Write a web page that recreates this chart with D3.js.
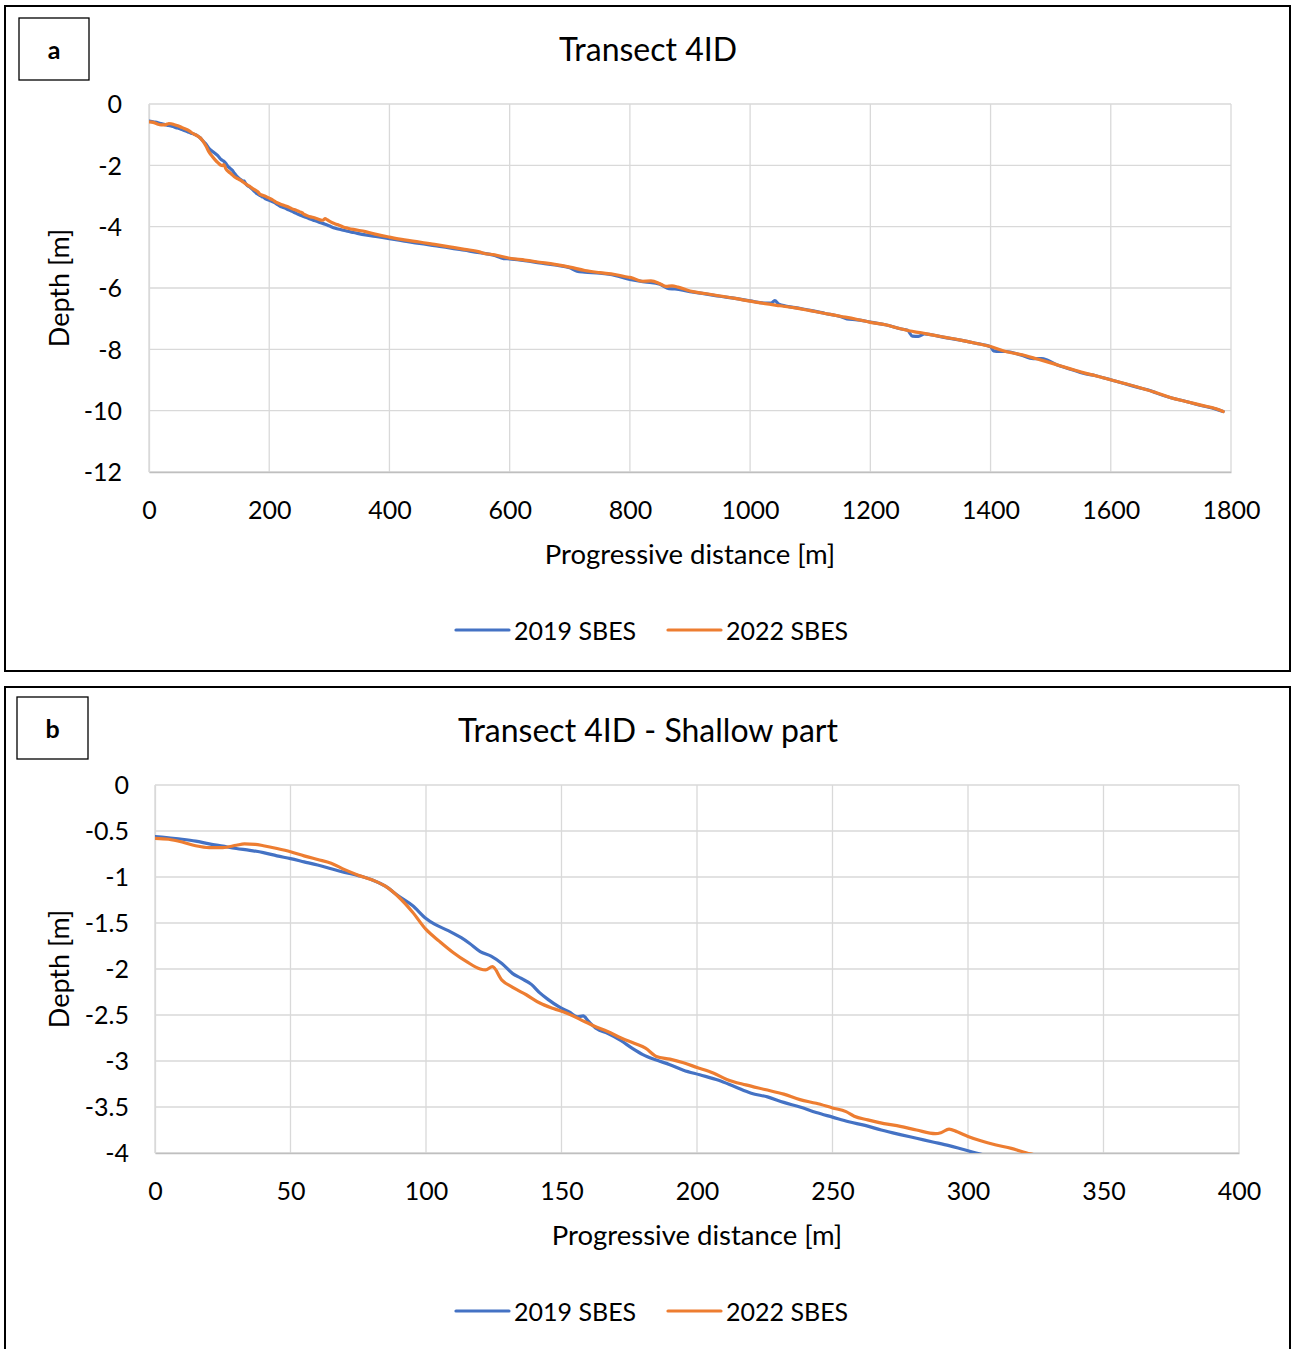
<!DOCTYPE html>
<html>
<head>
<meta charset="utf-8">
<script src="https://cdn.jsdelivr.net/npm/d3@7"></script>
<style>
  html, body { margin: 0; padding: 0; background: #fff; }
  svg { display: block; font-family: Lato, "Noto Sans", sans-serif; }
</style>
</head>
<body>
<svg id="chart" width="1291" height="1349"></svg>
<script>
// SBES depth profiles along transect 4ID (progressive distance in m, depth in m)
const dist2019 = [0,5,10,15,20,25,30,35,40,45,50,55,60,65,70,75,80,85,90,95,100,103,108,113,116,120,124,128,132,135,139,142,145,149,153,156,158,160,163,167,172,176,180,185,190,195,201,208,214,220,226,232,238,244,250,256,262,268,275,281,287,293,298,303,310,320,330,340,360,380,400,425,450,475,500,525,550,575,590,600,625,650,675,700,712,725,750,775,800,825,850,865,875,900,925,950,975,1000,1025,1035,1041,1048,1075,1100,1125,1150,1165,1175,1200,1225,1250,1262,1270,1280,1290,1300,1325,1350,1375,1400,1405,1415,1425,1450,1471,1485,1495,1510,1530,1554,1575,1601,1625,1650,1665,1675,1700,1725,1750,1775,1787];
const depth2019 = [-0.56,-0.575,-0.59,-0.61,-0.64,-0.665,-0.69,-0.71,-0.735,-0.77,-0.8,-0.835,-0.87,-0.91,-0.95,-0.985,-1.03,-1.1,-1.21,-1.31,-1.45,-1.51,-1.58,-1.66,-1.72,-1.81,-1.86,-1.94,-2.05,-2.1,-2.17,-2.26,-2.33,-2.41,-2.47,-2.52,-2.51,-2.57,-2.65,-2.7,-2.78,-2.86,-2.93,-2.99,-3.04,-3.1,-3.15,-3.21,-3.28,-3.35,-3.39,-3.45,-3.5,-3.56,-3.61,-3.66,-3.7,-3.75,-3.8,-3.84,-3.88,-3.92,-3.96,-4.0,-4.05,-4.1,-4.15,-4.19,-4.27,-4.33,-4.39,-4.47,-4.55,-4.62,-4.69,-4.77,-4.85,-4.94,-5.04,-5.05,-5.11,-5.18,-5.25,-5.34,-5.45,-5.48,-5.52,-5.59,-5.72,-5.8,-5.88,-6.02,-6.03,-6.12,-6.19,-6.27,-6.34,-6.42,-6.49,-6.49,-6.41,-6.53,-6.64,-6.73,-6.83,-6.93,-7.02,-7.03,-7.11,-7.2,-7.33,-7.38,-7.57,-7.58,-7.5,-7.52,-7.62,-7.7,-7.8,-7.92,-8.05,-8.07,-8.07,-8.18,-8.3,-8.3,-8.36,-8.5,-8.63,-8.78,-8.86,-9.0,-9.13,-9.27,-9.34,-9.42,-9.58,-9.7,-9.83,-9.95,-10.03];

const dist2022 = [0,5,10,15,20,25,30,33,37,40,45,50,55,60,65,70,75,80,85,90,95,100,105,110,115,120,122,124.5,128,132,137,142,147,152,157,162,167,172,177,181,185,190,195,200,206,211,218,225,232,238,244,250,255,258,263,269,275,281,288,290,293,296,300,305,310,316,323,331,340,360,380,400,425,450,475,500,525,551,555,575,600,625,650,675,700,725,750,775,798,802,820,835,850,860,870,880,900,925,950,975,1000,1025,1050,1075,1100,1125,1150,1175,1200,1225,1250,1274,1285,1300,1325,1350,1375,1400,1425,1450,1475,1493,1510,1530,1554,1575,1601,1625,1650,1675,1700,1725,1750,1775,1787];
const depth2022 = [-0.58,-0.59,-0.62,-0.66,-0.68,-0.68,-0.655,-0.64,-0.645,-0.66,-0.69,-0.725,-0.77,-0.81,-0.85,-0.92,-0.98,-1.03,-1.1,-1.22,-1.38,-1.57,-1.7,-1.82,-1.92,-2.0,-2.01,-1.975,-2.12,-2.2,-2.28,-2.37,-2.43,-2.48,-2.55,-2.62,-2.68,-2.75,-2.81,-2.86,-2.95,-2.98,-3.02,-3.07,-3.13,-3.2,-3.26,-3.31,-3.36,-3.42,-3.46,-3.51,-3.55,-3.6,-3.64,-3.68,-3.71,-3.75,-3.79,-3.78,-3.74,-3.77,-3.82,-3.87,-3.91,-3.95,-4.01,-4.05,-4.09,-4.16,-4.26,-4.34,-4.43,-4.5,-4.58,-4.66,-4.74,-4.83,-4.86,-4.92,-5.03,-5.09,-5.16,-5.23,-5.32,-5.43,-5.5,-5.56,-5.65,-5.66,-5.78,-5.77,-5.86,-5.95,-5.93,-5.97,-6.1,-6.18,-6.26,-6.34,-6.43,-6.51,-6.58,-6.65,-6.74,-6.83,-6.92,-7.01,-7.12,-7.2,-7.33,-7.43,-7.46,-7.52,-7.61,-7.7,-7.8,-7.91,-8.07,-8.17,-8.3,-8.4,-8.5,-8.62,-8.76,-8.86,-9.0,-9.12,-9.26,-9.41,-9.58,-9.7,-9.82,-9.94,-10.03];

const seriesNames = ["2019 SBES", "2022 SBES"];
const seriesColors = ["#4472C4", "#ED7D31"];

const xTicksA = [0, 200, 400, 600, 800, 1000, 1200, 1400, 1600, 1800];
const yTicksA = [0, -2, -4, -6, -8, -10, -12];
const xTicksB = [0, 50, 100, 150, 200, 250, 300, 350, 400];
const yTicksB = [0, -0.5, -1, -1.5, -2, -2.5, -3, -3.5, -4];

const series = [
  dist2019.map((d, i) => [d, depth2019[i]]),
  dist2022.map((d, i) => [d, depth2022[i]])
];

const svg = d3.select("#chart");
const defs = svg.append("defs");

const panels = [
  {
    id: "a", title: "Transect 4ID",
    frame: { x: 5, y: 6, w: 1285, h: 665 },
    tag: { x: 19, y: 18, w: 70, h: 62 },
    plot: { left: 149, right: 1231, top: 104, bottom: 472 },
    xDomain: [0, 1800], yDomain: [-12, 0],
    xTicks: xTicksA, yTicks: yTicksA,
    tickLabelRight: 122
  },
  {
    id: "b", title: "Transect 4ID - Shallow part",
    frame: { x: 5, y: 687, w: 1285, h: 680 },
    tag: { x: 17, y: 697, w: 71, h: 62 },
    plot: { left: 155, right: 1239, top: 785, bottom: 1153 },
    xDomain: [0, 400], yDomain: [-4, 0],
    xTicks: xTicksB, yTicks: yTicksB,
    tickLabelRight: 129
  }
];

panels.forEach(p => {
  const g = svg.append("g");

  // outer frame and panel tag
  g.append("rect")
    .attr("x", p.frame.x).attr("y", p.frame.y)
    .attr("width", p.frame.w).attr("height", p.frame.h)
    .attr("fill", "none").attr("stroke", "#000").attr("stroke-width", 2);
  g.append("rect")
    .attr("x", p.tag.x).attr("y", p.tag.y)
    .attr("width", p.tag.w).attr("height", p.tag.h)
    .attr("fill", "none").attr("stroke", "#000").attr("stroke-width", 1.3);
  g.append("text")
    .attr("x", p.tag.x + p.tag.w / 2).attr("y", p.tag.y + p.tag.h / 2)
    .attr("text-anchor", "middle").attr("dominant-baseline", "central")
    .attr("font-weight", "bold").attr("font-size", 25)
    .text(p.id);

  const x = d3.scaleLinear().domain(p.xDomain).range([p.plot.left, p.plot.right]);
  const y = d3.scaleLinear().domain(p.yDomain).range([p.plot.bottom, p.plot.top]);

  // gridlines
  const grid = g.append("g").attr("stroke", "#d9d9d9").attr("stroke-width", 1.3);
  p.xTicks.forEach(t => {
    grid.append("line")
      .attr("x1", x(t)).attr("x2", x(t))
      .attr("y1", p.plot.top).attr("y2", p.plot.bottom);
  });
  p.yTicks.forEach(t => {
    grid.append("line")
      .attr("x1", p.plot.left).attr("x2", p.plot.right)
      .attr("y1", y(t)).attr("y2", y(t));
  });

  // axes (tick labels only, Excel style)
  const xAxis = g.append("g")
    .attr("transform", `translate(0,${p.plot.bottom})`)
    .call(d3.axisBottom(x).tickValues(p.xTicks).tickSize(0).tickPadding(0).tickFormat(d => String(d)));
  xAxis.select(".domain").attr("stroke", "#bfbfbf").attr("stroke-width", 1.5);
  xAxis.selectAll("text")
    .attr("y", 47).attr("dy", null)
    .attr("font-size", 25).attr("font-family", "Lato, sans-serif").attr("fill", "#000");

  const yAxis = g.append("g")
    .attr("transform", `translate(${p.plot.left},0)`)
    .call(d3.axisLeft(y).tickValues(p.yTicks).tickSize(0).tickPadding(0).tickFormat(d => String(d)));
  yAxis.select(".domain").attr("stroke", "#d9d9d9").attr("stroke-width", 1.3);
  yAxis.selectAll("text")
    .attr("x", p.tickLabelRight - p.plot.left).attr("dy", "0.35em")
    .attr("font-size", 25).attr("font-family", "Lato, sans-serif").attr("fill", "#000");

  // titles
  g.append("text")
    .attr("x", 648).attr("y", p.frame.y + 42)
    .attr("text-anchor", "middle").attr("dominant-baseline", "central")
    .attr("font-size", 32).text(p.title);
  g.append("text")
    .attr("x", (p.plot.left + p.plot.right) / 2).attr("y", p.plot.bottom + 81)
    .attr("text-anchor", "middle").attr("dominant-baseline", "central")
    .attr("font-size", 27.5).text("Progressive distance [m]");
  g.append("text")
    .attr("transform", `translate(58,${(p.plot.top + p.plot.bottom) / 2}) rotate(-90)`)
    .attr("text-anchor", "middle").attr("dominant-baseline", "central")
    .attr("font-size", 27).text("Depth [m]");

  // data lines, clipped to the plot area
  const clipId = "clip-" + p.id;
  defs.append("clipPath").attr("id", clipId)
    .append("rect")
    .attr("x", p.plot.left).attr("y", p.plot.top - 2)
    .attr("width", p.plot.right - p.plot.left)
    .attr("height", p.plot.bottom - p.plot.top + 2);

  const line = d3.line().x(d => x(d[0])).y(d => y(d[1])).curve(d3.curveMonotoneX);
  const lines = g.append("g").attr("clip-path", `url(#${clipId})`);
  series.forEach((s, i) => {
    lines.append("path")
      .datum(s)
      .attr("d", line)
      .attr("fill", "none")
      .attr("stroke", seriesColors[i])
      .attr("stroke-width", 3.2)
      .attr("stroke-linejoin", "round")
      .attr("stroke-linecap", "round");
  });

  // legend
  const legY = p.plot.bottom + 158;
  const legendX = [456, 668];
  seriesNames.forEach((name, i) => {
    g.append("line")
      .attr("x1", legendX[i]).attr("x2", legendX[i] + 53)
      .attr("y1", legY).attr("y2", legY)
      .attr("stroke", seriesColors[i]).attr("stroke-width", 3.2)
      .attr("stroke-linecap", "round");
    g.append("text")
      .attr("x", legendX[i] + 58).attr("y", legY)
      .attr("dominant-baseline", "central")
      .attr("font-size", 25).text(name);
  });
});
</script>
</body>
</html>
